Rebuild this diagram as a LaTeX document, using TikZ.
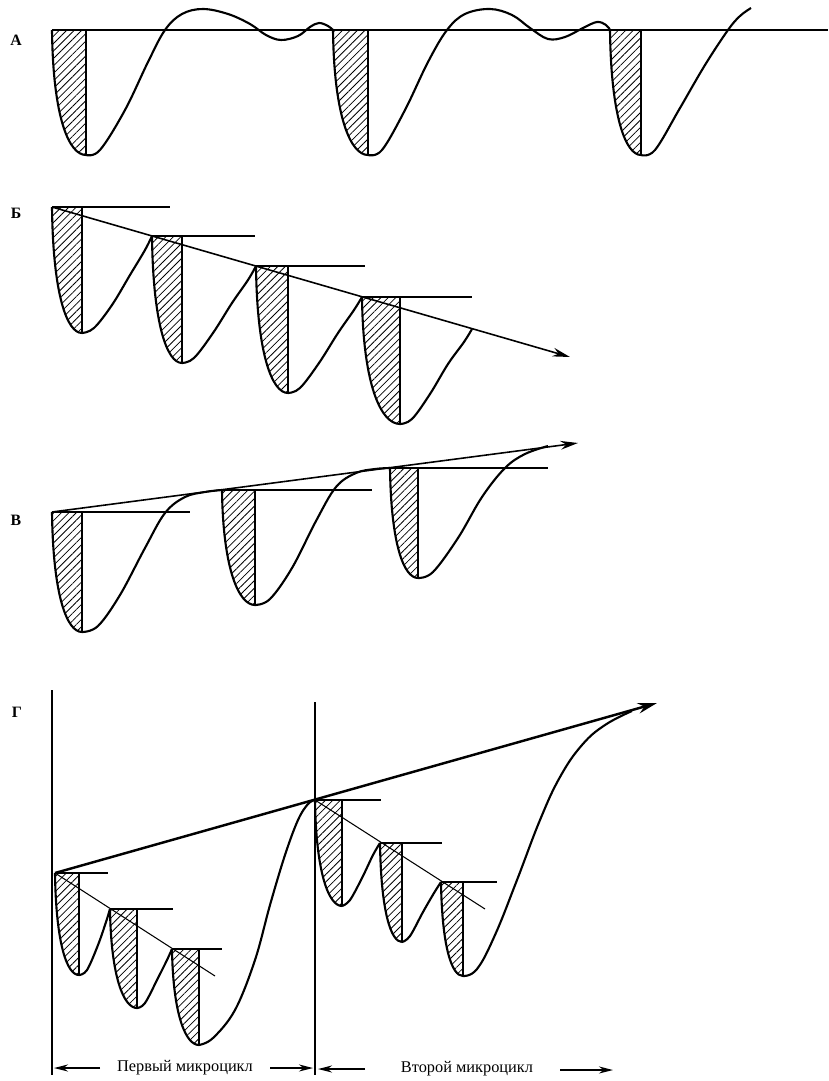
\documentclass[tikz,border=0pt]{standalone}
\usepackage{fontspec}
\setmainfont{Liberation Serif}
\usetikzlibrary{arrows.meta,patterns.meta}
\begin{document}
\begin{tikzpicture}[x=0.02cm,y=-0.02cm]
    \tikzstyle{curve} = [draw, line width=1.2pt, line join=round]
    \tikzstyle{thin} = [draw, line width=0.6pt]
    \tikzstyle{hatch} = [pattern={Lines[angle=45,distance=3pt,line width=0.45pt]}]
    \tikzstyle{trend} = [draw, line width=0.9pt, -{Stealth[length=10pt,width=5pt]}]
    \tikzstyle{bigtrend} = [draw, line width=1.4pt, -{Stealth[length=11pt,width=6pt]}]
    \tikzstyle{span} = [draw, line width=0.9pt, -{Stealth[length=8pt,width=4pt]}]
    \tikzstyle{letter} = [font=\bfseries\fontsize{9}{10}\selectfont]
    \tikzstyle{caption} = [font=\fontsize{9.3}{11}\selectfont]

    \useasboundingbox (0,0) rectangle (828,1081);
    %
    \node [letter] (la) at (16,40) {А};
    \coordinate (a0) at (52,30);
    \coordinate (a9) at (828,30);
    \path [thin] (a0) -- (a9);
    \coordinate (a1t) at (52,30);
    \coordinate (a1b) at (86,155);
    \path [hatch] (a1t) -- (a1t -| a1b) -- (a1b) .. controls +(-17,0) and +(1,88) .. (a1t);
    \path [thin] (a1t -| a1b) -- (a1b);
    \path [curve] (a1t) .. controls +(1,88) and +(-17,0) .. (a1b);
    \path [curve] plot [smooth, tension=0.6] coordinates {(86,155) (100,150) (125,110) (148,62)
        (165,30) (182,14) (203,9) (228,14) (250,24) (266,35) (281,40) (298,36) (310,27) (319,23)
        (328,26) (333,30)};
    \coordinate (a2t) at (333,30);
    \coordinate (a2b) at (368,155);
    \path [hatch] (a2t) -- (a2t -| a2b) -- (a2b) .. controls +(-17,0) and +(1,88) .. (a2t);
    \path [thin] (a2t -| a2b) -- (a2b);
    \path [curve] (a2t) .. controls +(1,88) and +(-17,0) .. (a2b);
    \path [curve] plot [smooth, tension=0.6] coordinates {(368,155) (382,150) (405,110) (428,62)
        (447,30) (465,14) (490,9) (512,15) (530,28) (548,39) (565,37) (583,28) (597,22)
        (606,25) (610,30)};
    \coordinate (a3t) at (610,30);
    \coordinate (a3b) at (641,155);
    \path [hatch] (a3t) -- (a3t -| a3b) -- (a3b) .. controls +(-15,0) and +(1,88) .. (a3t);
    \path [thin] (a3t -| a3b) -- (a3b);
    \path [curve] (a3t) .. controls +(1,88) and +(-15,0) .. (a3b);
    \path [curve] plot [smooth, tension=0.6] coordinates {(641,155) (655,150) (680,108) (705,65)
        (728,30) (740,16) (751,8)};
    %
    \node [letter] (lb) at (16,213) {Б};
    \coordinate (b1t) at (52,207);
    \coordinate (b1b) at (82,333);
    \coordinate (b2t) at (152,236);
    \coordinate (b2b) at (182,363);
    \coordinate (b3t) at (256,266);
    \coordinate (b3b) at (288,393);
    \coordinate (b4t) at (362,297);
    \coordinate (b4b) at (400,424);
    \coordinate (b5) at (570,357);
    \path [hatch] (b1t) -- (b1t -| b1b) -- (b1b) .. controls +(-15,0) and +(1,88) .. (b1t);
    \path [hatch] (b2t) -- (b2t -| b2b) -- (b2b) .. controls +(-15,0) and +(1,88) .. (b2t);
    \path [hatch] (b3t) -- (b3t -| b3b) -- (b3b) .. controls +(-16,0) and +(1,88) .. (b3t);
    \path [hatch] (b4t) -- (b4t -| b4b) -- (b4b) .. controls +(-19,0) and +(1,88) .. (b4t);
    \path [thin] (b1t -| b1b) -- (b1b);
    \path [thin] (b2t -| b2b) -- (b2b);
    \path [thin] (b3t -| b3b) -- (b3b);
    \path [thin] (b4t -| b4b) -- (b4b);
    \path [thin] (b1t) -- (170,207);
    \path [thin] (b2t) -- (255,236);
    \path [thin] (b3t) -- (365,266);
    \path [thin] (b4t) -- (472,297);
    \path [trend] (b1t) -- (b5);
    \path [curve] (b1t) .. controls +(1,88) and +(-15,0) .. (b1b);
    \path [curve] (b2t) .. controls +(1,88) and +(-15,0) .. (b2b);
    \path [curve] (b3t) .. controls +(1,88) and +(-16,0) .. (b3b);
    \path [curve] (b4t) .. controls +(1,88) and +(-19,0) .. (b4b);
    \path [curve] plot [smooth, tension=0.6] coordinates {(82,333) (94,328) (112,305) (130,275) (145,250) (152,236)};
    \path [curve] plot [smooth, tension=0.6] coordinates {(182,363) (194,358) (213,333) (232,303) (248,280) (256,266)};
    \path [curve] plot [smooth, tension=0.6] coordinates {(288,393) (300,388) (319,363) (338,333) (354,310) (362,297)};
    \path [curve] plot [smooth, tension=0.6] coordinates {(400,424) (412,419) (430,394) (448,364) (464,342) (472,329)};
    %
    \node [letter] (lv) at (16,520) {В};
    \coordinate (v1t) at (52,512);
    \coordinate (v1b) at (82,632);
    \coordinate (v2t) at (222,490);
    \coordinate (v2b) at (255,605);
    \coordinate (v3t) at (390,468);
    \coordinate (v3b) at (418,578);
    \coordinate (v4) at (578,443);
    \path [hatch] (v1t) -- (v1t -| v1b) -- (v1b) .. controls +(-15,0) and +(1,84) .. (v1t);
    \path [hatch] (v2t) -- (v2t -| v2b) -- (v2b) .. controls +(-16,0) and +(1,80) .. (v2t);
    \path [hatch] (v3t) -- (v3t -| v3b) -- (v3b) .. controls +(-14,0) and +(1,77) .. (v3t);
    \path [thin] (v1t -| v1b) -- (v1b);
    \path [thin] (v2t -| v2b) -- (v2b);
    \path [thin] (v3t -| v3b) -- (v3b);
    \path [thin] (v1t) -- (190,512);
    \path [thin] (v2t) -- (372,490);
    \path [thin] (v3t) -- (548,468);
    \path [trend] (v1t) -- (v4);
    \path [curve] (v1t) .. controls +(1,84) and +(-15,0) .. (v1b);
    \path [curve] (v2t) .. controls +(1,80) and +(-16,0) .. (v2b);
    \path [curve] (v3t) .. controls +(1,77) and +(-14,0) .. (v3b);
    \path [curve] plot [smooth, tension=0.6] coordinates {(82,632) (98,626) (120,595) (145,548)
        (165,513) (185,497) (205,492) (222,490)};
    \path [curve] plot [smooth, tension=0.6] coordinates {(255,605) (270,599) (292,568) (316,521)
        (336,487) (356,473) (375,469) (390,468)};
    \path [curve] plot [smooth, tension=0.6] coordinates {(418,578) (433,572) (458,538) (482,497)
        (505,468) (525,454) (548,446)};
    %
    \node [letter] (lg) at (17,712) {Г};
    \coordinate (g0) at (52,690);
    \coordinate (g0b) at (52,1075);
    \coordinate (gm) at (315,702);
    \coordinate (gmb) at (315,1075);
    \path [thin] (g0) -- (g0b);
    \path [thin] (gm) -- (gmb);
    \coordinate (g1t) at (55,873);
    \coordinate (g1b) at (79,975);
    \coordinate (g2t) at (110,909);
    \coordinate (g2b) at (137,1008);
    \coordinate (g3t) at (172,949);
    \coordinate (g3b) at (199,1045);
    \coordinate (g4t) at (315,800);
    \coordinate (g4b) at (342,906);
    \coordinate (g5t) at (380,843);
    \coordinate (g5b) at (402,942);
    \coordinate (g6t) at (441,882);
    \coordinate (g6b) at (463,976);
    \coordinate (g7) at (657,703);
    \path [hatch] (g1t) -- (g1t -| g1b) -- (g1b) .. controls +(-12,0) and +(1,71) .. (g1t);
    \path [hatch] (g2t) -- (g2t -| g2b) -- (g2b) .. controls +(-13,0) and +(1,69) .. (g2t);
    \path [hatch] (g3t) -- (g3t -| g3b) -- (g3b) .. controls +(-13,0) and +(1,67) .. (g3t);
    \path [hatch] (g4t) -- (g4t -| g4b) -- (g4b) .. controls +(-13,0) and +(1,74) .. (g4t);
    \path [hatch] (g5t) -- (g5t -| g5b) -- (g5b) .. controls +(-11,0) and +(1,69) .. (g5t);
    \path [hatch] (g6t) -- (g6t -| g6b) -- (g6b) .. controls +(-11,0) and +(1,66) .. (g6t);
    \path [thin] (g1t -| g1b) -- (g1b);
    \path [thin] (g2t -| g2b) -- (g2b);
    \path [thin] (g3t -| g3b) -- (g3b);
    \path [thin] (g4t -| g4b) -- (g4b);
    \path [thin] (g5t -| g5b) -- (g5b);
    \path [thin] (g6t -| g6b) -- (g6b);
    \path [thin] (g1t) -- (108,873);
    \path [thin] (g2t) -- (173,909);
    \path [thin] (g3t) -- (222,949);
    \path [thin] (g4t) -- (381,800);
    \path [thin] (g5t) -- (442,843);
    \path [thin] (g6t) -- (497,882);
    \path [thin] (g1t) -- (215,976);
    \path [thin] (g4t) -- (485,909);
    \path [bigtrend] (g1t) -- (g7);
    \path [curve] (g1t) .. controls +(1,71) and +(-12,0) .. (g1b);
    \path [curve] (g2t) .. controls +(1,69) and +(-13,0) .. (g2b);
    \path [curve] (g3t) .. controls +(1,67) and +(-13,0) .. (g3b);
    \path [curve] (g4t) .. controls +(1,74) and +(-13,0) .. (g4b);
    \path [curve] (g5t) .. controls +(1,69) and +(-11,0) .. (g5b);
    \path [curve] (g6t) .. controls +(1,66) and +(-11,0) .. (g6b);
    \path [curve] plot [smooth, tension=0.6] coordinates {(79,975) (87,970) (98,945) (106,922) (110,909)};
    \path [curve] plot [smooth, tension=0.6] coordinates {(137,1008) (145,1003) (158,978) (167,960) (172,949)};
    \path [curve] plot [smooth, tension=0.6] coordinates {(199,1045) (213,1038) (235,1010) (255,960)
        (270,905) (285,855) (298,820) (308,804) (315,800)};
    \path [curve] plot [smooth, tension=0.6] coordinates {(342,906) (350,900) (362,878) (373,855) (380,843)};
    \path [curve] plot [smooth, tension=0.6] coordinates {(402,942) (410,936) (423,912) (434,893) (441,882)};
    \path [curve] plot [smooth, tension=0.7] coordinates {(463,976) (477,969) (495,935) (517,880)
        (540,820) (560,777) (582,745) (605,725) (632,711)};
    %
    \node [caption] (first) at (185,1068) {Первый микроцикл};
    \node [caption] (second) at (467,1069) {Второй микроцикл};
    \coordinate (p1) at (100,1068);
    \coordinate (p2) at (54,1068);
    \coordinate (p3) at (270,1068);
    \coordinate (p4) at (313,1068);
    \coordinate (p5) at (365,1069);
    \coordinate (p6) at (318,1069);
    \coordinate (p7) at (560,1070);
    \coordinate (p8) at (613,1070);
    \path [span] (p1) -- (p2);
    \path [span] (p3) -- (p4);
    \path [span] (p5) -- (p6);
    \path [span] (p7) -- (p8);
\end{tikzpicture}
\end{document}
